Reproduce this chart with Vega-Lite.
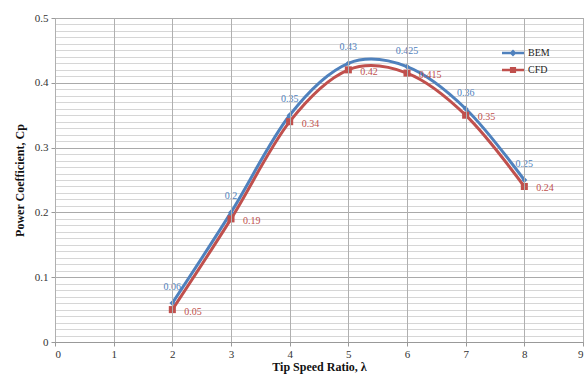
{
  "$schema": "https://vega.github.io/schema/vega-lite/v6.json",
  "width": 528,
  "height": 324,
  "autosize": "none",
  "padding": {"left": 55, "top": 18, "right": 3, "bottom": 33},
  "background": "white",
  "config": {
    "view": {"stroke": "#999999", "strokeWidth": 1},
    "font": "Liberation Serif",
    "axis": {"labelFont": "Liberation Serif", "titleFont": "Liberation Serif", "labelColor": "#333333", "titleColor": "#111111", "domainColor": "#999999", "tickColor": "#999999"},
    "legend": {"labelFont": "Liberation Serif"}
  },
  "data": {
    "values": [
      {"tsr": 2, "cp": 0.06, "model": "BEM", "lbl": "0.06"},
      {"tsr": 3, "cp": 0.2, "model": "BEM", "lbl": "0.2"},
      {"tsr": 4, "cp": 0.35, "model": "BEM", "lbl": "0.35"},
      {"tsr": 5, "cp": 0.43, "model": "BEM", "lbl": "0.43"},
      {"tsr": 6, "cp": 0.425, "model": "BEM", "lbl": "0.425"},
      {"tsr": 7, "cp": 0.36, "model": "BEM", "lbl": "0.36"},
      {"tsr": 8, "cp": 0.25, "model": "BEM", "lbl": "0.25"},
      {"tsr": 2, "cp": 0.05, "model": "CFD", "lbl": "0.05"},
      {"tsr": 3, "cp": 0.19, "model": "CFD", "lbl": "0.19"},
      {"tsr": 4, "cp": 0.34, "model": "CFD", "lbl": "0.34"},
      {"tsr": 5, "cp": 0.42, "model": "CFD", "lbl": "0.42"},
      {"tsr": 6, "cp": 0.415, "model": "CFD", "lbl": "0.415"},
      {"tsr": 7, "cp": 0.35, "model": "CFD", "lbl": "0.35"},
      {"tsr": 8, "cp": 0.24, "model": "CFD", "lbl": "0.24"}
    ]
  },
  "encoding": {
    "x": {"field": "tsr", "type": "quantitative", "scale": {"domain": [0, 9], "nice": false},
      "axis": {"values": [0,1,2,3,4,5,6,7,8,9], "format": "d", "grid": true, "gridColor": "#b0b0b0", "gridWidth": 1, "title": "Tip Speed Ratio, λ", "titleFont": "Liberation Serif", "titleFontSize": 12, "titleFontWeight": "bold", "titlePadding": 2, "labelFont": "Liberation Serif", "labelFontSize": 11, "labelPadding": 2, "tickSize": 4, "zindex": 1}},
    "y": {"field": "cp", "type": "quantitative", "scale": {"domain": [0, 0.5], "nice": false},
      "axis": {"values": [0,0.01,0.02,0.03,0.04,0.05,0.06,0.07,0.08,0.09,0.1,0.11,0.12,0.13,0.14,0.15,0.16,0.17,0.18,0.19,0.2,0.21,0.22,0.23,0.24,0.25,0.26,0.27,0.28,0.29,0.3,0.31,0.32,0.33,0.34,0.35,0.36,0.37,0.38,0.39,0.4,0.41,0.42,0.43,0.44,0.45,0.46,0.47,0.48,0.49,0.5],
        "labelExpr": "abs(datum.value*10 - round(datum.value*10)) < 0.001 ? format(datum.value, '~g') : ''",
        "grid": true,
        "gridColor": {"condition": {"test": "abs(datum.value*10 - round(datum.value*10)) < 0.001", "value": "#aaaaaa"}, "value": "#d6d6d6"},
        "tickOpacity": {"condition": {"test": "abs(datum.value*10 - round(datum.value*10)) < 0.001", "value": 1}, "value": 0},
        "gridWidth": 1, "title": "Power Coefficient, Cp", "titleFont": "Liberation Serif", "titleFontSize": 12, "titleFontWeight": "bold", "titlePadding": 8, "labelFont": "Liberation Serif", "labelFontSize": 11, "labelPadding": 3, "tickSize": 4, "labelOverlap": false, "zindex": 0}},
    "color": {"field": "model", "type": "nominal", "scale": {"domain": ["BEM", "CFD"], "range": ["#4f81bd", "#c0504d"]},
      "legend": {"orient": "none", "legendX": 447, "legendY": 24, "title": null, "labelFont": "Liberation Serif", "labelFontSize": 10, "labelColor": "#222222", "rowPadding": 1, "symbolSize": 484, "labelOffset": 4,
        "encode": {"symbols": {"update": {
          "shape": {"signal": "datum.value == 'BEM' ? 'M-1,-0.12H1V0.12H-1Z M0,-0.32L0.32,0L0,0.32L-0.32,0Z' : 'M-1,-0.12H1V0.12H-1Z M-0.28,-0.28H0.28V0.28H-0.28Z'"},
          "fill": {"signal": "datum.value == 'BEM' ? '#4f81bd' : '#c0504d'"},
          "fillOpacity": {"value": 1},
          "strokeWidth": {"value": 0},
          "size": {"value": 484}}}}}}
  },
  "layer": [
    {
      "mark": {"type": "line", "interpolate": "cardinal", "strokeWidth": 3}
    },
    {
      "transform": [{"filter": "datum.model == 'BEM'"}],
      "mark": {"type": "point", "filled": true, "opacity": 1, "shape": "diamond", "size": 35}
    },
    {
      "transform": [{"filter": "datum.model == 'CFD'"}],
      "mark": {"type": "point", "filled": true, "opacity": 1, "shape": "square", "size": 50}
    },
    {
      "transform": [{"filter": "datum.model == 'BEM'"}],
      "mark": {"type": "text", "dy": -16, "fontSize": 10, "font": "Liberation Serif", "color": "#4f81bd"},
      "encoding": {
        "text": {"field": "lbl"},
        "color": {"value": "#4f81bd"}
      }
    },
    {
      "transform": [{"filter": "datum.model == 'CFD'"}],
      "mark": {"type": "text", "dx": 12, "dy": 2, "align": "left", "fontSize": 10, "font": "Liberation Serif", "color": "#c0504d"},
      "encoding": {
        "text": {"field": "lbl"},
        "color": {"value": "#c0504d"}
      }
    }
  ]
}
